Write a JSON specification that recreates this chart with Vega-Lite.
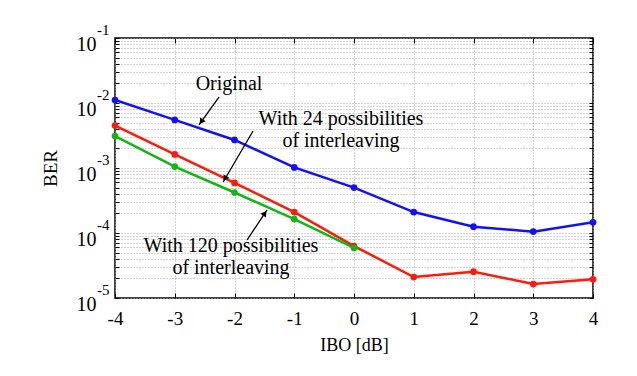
{
  "$schema": "https://vega.github.io/schema/vega-lite/v6.json",
  "width": 478,
  "height": 260,
  "autosize": {"type": "none"},
  "padding": {"left": 115, "top": 38, "right": 44, "bottom": 78},
  "background": "white",
  "config": {
    "font": "Liberation Serif",
    "view": {"stroke": "black", "strokeWidth": 1.5},
    "axis": {
      "labelFont": "Liberation Serif",
      "titleFont": "Liberation Serif",
      "labelColor": "black",
      "titleColor": "black",
      "titleFontWeight": "normal",
      "domain": false,
      "tickColor": "black",
      "gridColor": "#a8a8a8",
      "gridDash": [1, 2],
      "gridWidth": 1
    }
  },
  "datasets": {
    "series": [
      {"x": -4, "ber": 0.0111, "s": "Original"},
      {"x": -3, "ber": 0.0055, "s": "Original"},
      {"x": -2, "ber": 0.0027, "s": "Original"},
      {"x": -1, "ber": 0.00102, "s": "Original"},
      {"x": 0, "ber": 0.0005, "s": "Original"},
      {"x": 1, "ber": 0.00021, "s": "Original"},
      {"x": 2, "ber": 0.000125, "s": "Original"},
      {"x": 3, "ber": 0.000105, "s": "Original"},
      {"x": 4, "ber": 0.000146, "s": "Original"},
      {"x": -4, "ber": 0.0045, "s": "24"},
      {"x": -3, "ber": 0.00162, "s": "24"},
      {"x": -2, "ber": 0.00059, "s": "24"},
      {"x": -1, "ber": 0.00021, "s": "24"},
      {"x": 0, "ber": 0.000063, "s": "24"},
      {"x": 1, "ber": 0.000021, "s": "24"},
      {"x": 2, "ber": 0.0000254, "s": "24"},
      {"x": 3, "ber": 0.0000164, "s": "24"},
      {"x": 4, "ber": 0.0000194, "s": "24"},
      {"x": -4, "ber": 0.0031, "s": "120"},
      {"x": -3, "ber": 0.00105, "s": "120"},
      {"x": -2, "ber": 0.00042, "s": "120"},
      {"x": -1, "ber": 0.000164, "s": "120"},
      {"x": 0, "ber": 0.000059, "s": "120"}
    ],
    "arrows": [
      {"x1": -2.26, "y1": 0.01236, "x2": -2.594, "y2": 0.00459, "hx": -2.556, "hy": 0.00515, "ang": 215.5},
      {"x1": -1.69, "y1": 0.00371, "x2": -2.19, "y2": 0.000609, "hx": -2.159, "hy": 0.000687, "ang": 210.5},
      {"x1": -1.79, "y1": 0.000078, "x2": -1.456, "y2": 0.000226, "hx": -1.493, "hy": 0.000201, "ang": 33.7}
    ],
    "notes": [
      {"x": -2.092, "y": 0.01585, "t": "Original"},
      {"x": -0.218, "y": 0.00459, "t": "With 24 possibilities\nof interleaving"},
      {"x": -2.059, "y": 0.000051, "t": "With 120 possibilities\nof interleaving"}
    ],
    "expo": [
      {"p": 0.1, "e": "-1"},
      {"p": 0.01, "e": "-2"},
      {"p": 0.001, "e": "-3"},
      {"p": 0.0001, "e": "-4"},
      {"p": 0.00001, "e": "-5"}
    ]
  },
  "resolve": {"axis": {"x": "independent", "y": "independent"}},
  "layer": [
    {
      "data": {"name": "series"},
      "mark": {"type": "line", "strokeWidth": 2.5, "clip": true},
      "encoding": {
        "x": {
          "field": "x", "type": "quantitative",
          "scale": {"domain": [-4, 4], "nice": false, "zero": false},
          "axis": {
            "values": [-4, -3, -2, -1, 0, 1, 2, 3, 4],
            "grid": true,
            "tickSize": -5,
            "labelExpr": "'' + datum.value",
            "labelFlush": false,
            "labelFontSize": 19,
            "labelPadding": 16,
            "title": "IBO [dB]",
            "titleFontSize": 18,
            "titlePadding": 8
          }
        },
        "y": {
          "field": "ber", "type": "quantitative",
          "scale": {"type": "log", "domain": [0.00001, 0.1], "nice": false},
          "axis": {
            "values": [0.00001, 0.00002, 0.00003, 0.00004, 0.00005, 0.00006, 0.00007, 0.00008, 0.00009,
                       0.0001, 0.0002, 0.0003, 0.0004, 0.0005, 0.0006, 0.0007, 0.0008, 0.0009,
                       0.001, 0.002, 0.003, 0.004, 0.005, 0.006, 0.007, 0.008, 0.009,
                       0.01, 0.02, 0.03, 0.04, 0.05, 0.06, 0.07, 0.08, 0.09, 0.1],
            "grid": true,
            "tickSize": -4,
            "labelExpr": "abs(log(datum.value)/LN10 - round(log(datum.value)/LN10)) < 0.001 ? '10' : ''",
            "labelFontSize": 20,
            "labelPadding": 23,
            "labelBaseline": "alphabetic",
            "labelOffset": 12,
            "labelFlush": false,
            "title": "BER",
            "titleFontSize": 19,
            "titlePadding": 16
          }
        },
        "color": {
          "field": "s", "type": "nominal",
          "scale": {"domain": ["Original", "24", "120"], "range": ["#1010ff", "#ff1a0a", "#12b812"]},
          "legend": null
        }
      }
    },
    {
      "data": {"name": "series"},
      "mark": {"type": "circle", "size": 45, "opacity": 1},
      "encoding": {
        "x": {
          "field": "x", "type": "quantitative",
          "axis": {"orient": "top", "values": [-4, -3, -2, -1, 0, 1, 2, 3, 4], "labels": false, "grid": false, "tickSize": -5, "title": null}
        },
        "y": {
          "field": "ber", "type": "quantitative",
          "axis": {
            "orient": "right",
            "values": [0.00001, 0.00002, 0.00003, 0.00004, 0.00005, 0.00006, 0.00007, 0.00008, 0.00009,
                       0.0001, 0.0002, 0.0003, 0.0004, 0.0005, 0.0006, 0.0007, 0.0008, 0.0009,
                       0.001, 0.002, 0.003, 0.004, 0.005, 0.006, 0.007, 0.008, 0.009,
                       0.01, 0.02, 0.03, 0.04, 0.05, 0.06, 0.07, 0.08, 0.09, 0.1],
            "labels": false, "grid": false, "tickSize": -4, "title": null
          }
        },
        "color": {"field": "s", "type": "nominal", "legend": null}
      }
    },
    {
      "data": {"name": "arrows"},
      "mark": {"type": "rule", "color": "black", "strokeWidth": 1.3},
      "encoding": {
        "x": {"field": "x1", "type": "quantitative", "axis": null},
        "y": {"field": "y1", "type": "quantitative", "axis": null},
        "x2": {"field": "x2"},
        "y2": {"field": "y2"}
      }
    },
    {
      "data": {"name": "arrows"},
      "mark": {"type": "point", "shape": "triangle-up", "filled": true, "color": "black", "size": 45, "opacity": 1},
      "encoding": {
        "x": {"field": "hx", "type": "quantitative", "axis": null},
        "y": {"field": "hy", "type": "quantitative", "axis": null},
        "angle": {"field": "ang", "type": "quantitative", "scale": null}
      }
    },
    {
      "data": {"name": "notes"},
      "mark": {"type": "text", "fontSize": 20, "lineBreak": "\n", "lineHeight": 22, "align": "center", "baseline": "alphabetic", "color": "black"},
      "encoding": {
        "x": {"field": "x", "type": "quantitative", "axis": null},
        "y": {"field": "y", "type": "quantitative", "axis": null},
        "text": {"field": "t", "type": "nominal"}
      }
    },
    {
      "data": {"name": "expo"},
      "mark": {"type": "text", "fontSize": 15, "align": "left", "baseline": "alphabetic", "dx": -18, "dy": -3, "color": "black", "clip": false},
      "encoding": {
        "x": {"datum": -4, "type": "quantitative", "axis": null},
        "y": {"field": "p", "type": "quantitative", "axis": null},
        "text": {"field": "e", "type": "nominal"}
      }
    }
  ]
}
